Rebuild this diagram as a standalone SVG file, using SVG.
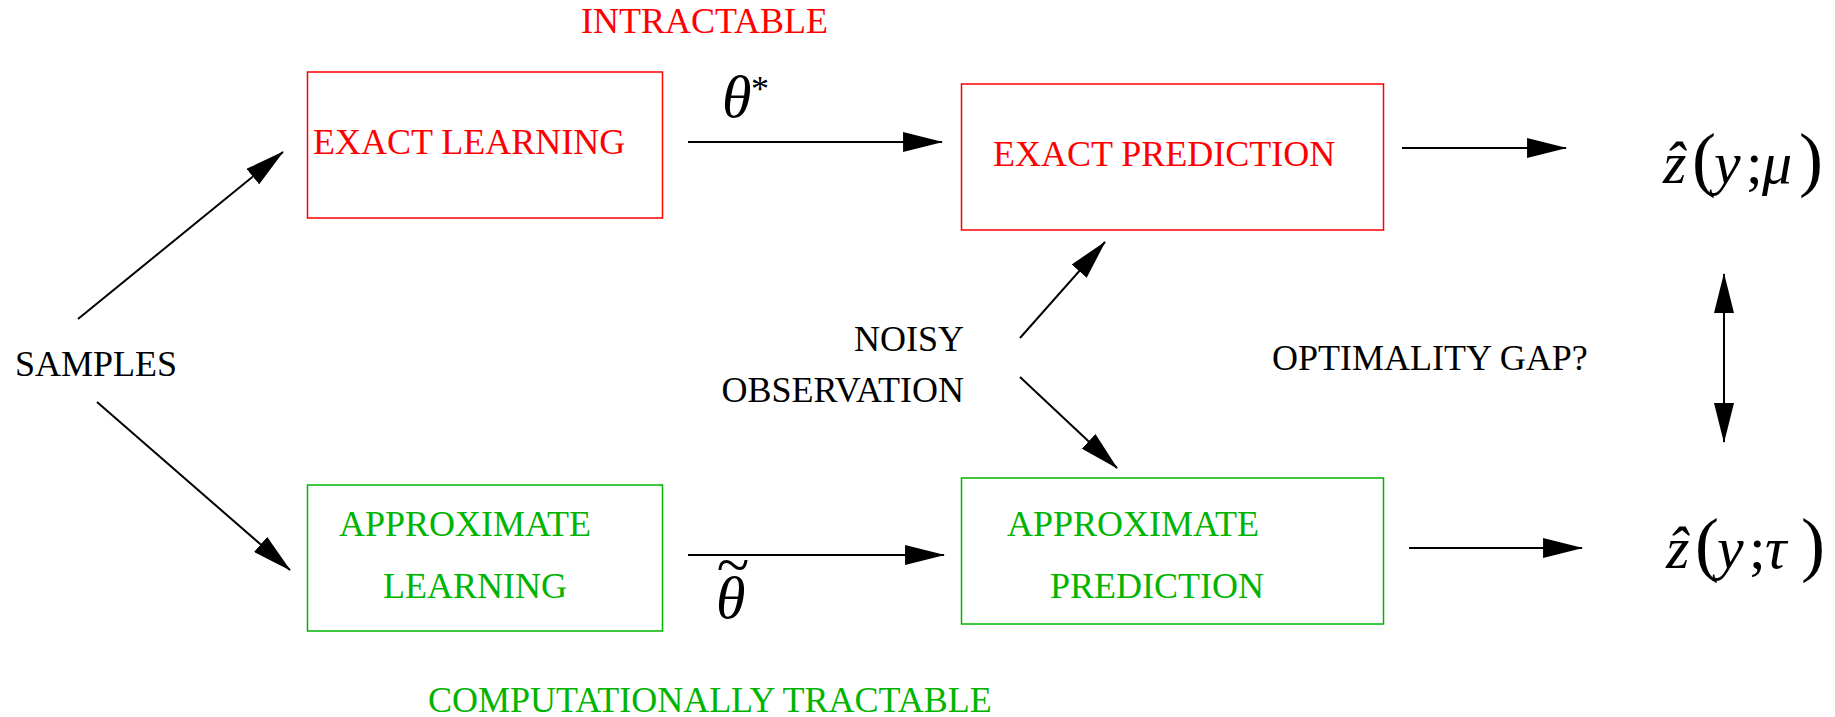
<svg xmlns="http://www.w3.org/2000/svg" width="1835" height="717" viewBox="0 0 1835 717">
<style>
text{font-family:"Liberation Serif","Times New Roman",serif;font-size:36px;}
.red{fill:#ff0000;}
.grn{fill:#00b400;}
.blk{fill:#000;}
.rbox{fill:none;stroke:#ff0000;stroke-width:1.5;}
.gbox{fill:none;stroke:#00b400;stroke-width:1.5;}
.con{stroke:#000;stroke-width:2;fill:none;marker-end:url(#ah);}
.math{font-style:italic;font-size:60px;}
.up{font-style:normal;}
</style>
<defs>
<marker id="ah" markerUnits="userSpaceOnUse" markerWidth="40" markerHeight="20" viewBox="0 0 38 19" refX="37" refY="9.5" orient="auto-start-reverse">
<path d="M0,0 L38,9.5 L0,19 z" fill="#000"/>
</marker>
</defs>
<rect width="1835" height="717" fill="#fff"/>

<g id="intractable"><text class="red" x="581" y="33">INTRACTABLE</text></g>
<g id="tractable"><text class="grn" x="428" y="712">COMPUTATIONALLY TRACTABLE</text></g>

<g id="samples"><text class="blk" x="15" y="376">SAMPLES</text></g>

<g id="exact-learning">
<rect class="rbox" x="307.5" y="72" width="355" height="146"/>
<text class="red" x="313" y="154">EXACT LEARNING</text>
</g>
<g id="exact-prediction">
<rect class="rbox" x="961.5" y="84" width="422" height="146"/>
<text class="red" x="993" y="166">EXACT PREDICTION</text>
</g>
<g id="approx-learning">
<rect class="gbox" x="307.5" y="485" width="355" height="146"/>
<text class="grn" x="339" y="536">APPROXIMATE</text>
<text class="grn" x="383" y="598">LEARNING</text>
</g>
<g id="approx-prediction">
<rect class="gbox" x="961.5" y="478" width="422" height="146"/>
<text class="grn" x="1007" y="536">APPROXIMATE</text>
<text class="grn" x="1050" y="598">PREDICTION</text>
</g>

<g id="noisy">
<text class="blk" x="964" y="351" text-anchor="end">NOISY</text>
<text class="blk" x="964" y="402" text-anchor="end">OBSERVATION</text>
</g>
<g id="gap"><text class="blk" x="1272" y="370">OPTIMALITY GAP?</text></g>

<g id="theta-star">
<text class="math"><tspan x="722" y="117">θ</tspan><tspan class="up" x="751" y="101" style="font-size:36px">*</tspan></text>
</g>
<g id="theta-tilde">
<text class="math" x="716 716" y="585 618">~θ</text>
</g>

<g id="z-mu">
<text class="math" y="183"><tspan x="1663">z&#x302;</tspan><tspan class="up" x="1692" style="font-size:72px">(</tspan><tspan x="1714">y</tspan><tspan class="up" x="1746">;</tspan><tspan x="1762">μ</tspan><tspan class="up" x="1799" style="font-size:72px">)</tspan></text>
</g>
<g id="z-tau">
<text class="math" y="568"><tspan x="1666">z&#x302;</tspan><tspan class="up" x="1695" style="font-size:72px">(</tspan><tspan x="1717">y</tspan><tspan class="up" x="1749">;</tspan><tspan x="1765">τ</tspan><tspan class="up" x="1801" style="font-size:72px">)</tspan></text>
</g>

<g id="connectors">
<line class="con" x1="78" y1="319" x2="283" y2="152"/>
<line class="con" x1="97" y1="402" x2="290" y2="570"/>
<line class="con" x1="688" y1="142" x2="942" y2="142"/>
<line class="con" x1="688" y1="555" x2="944" y2="555"/>
<line class="con" x1="1402" y1="148" x2="1566" y2="148"/>
<line class="con" x1="1409" y1="548" x2="1582" y2="548"/>
<line class="con" x1="1020" y1="338" x2="1105" y2="242"/>
<line class="con" x1="1020" y1="377" x2="1117" y2="468"/>
<line class="con" x1="1724" y1="274" x2="1724" y2="442" style="marker-start:url(#ah)"/>
</g>
</svg>
